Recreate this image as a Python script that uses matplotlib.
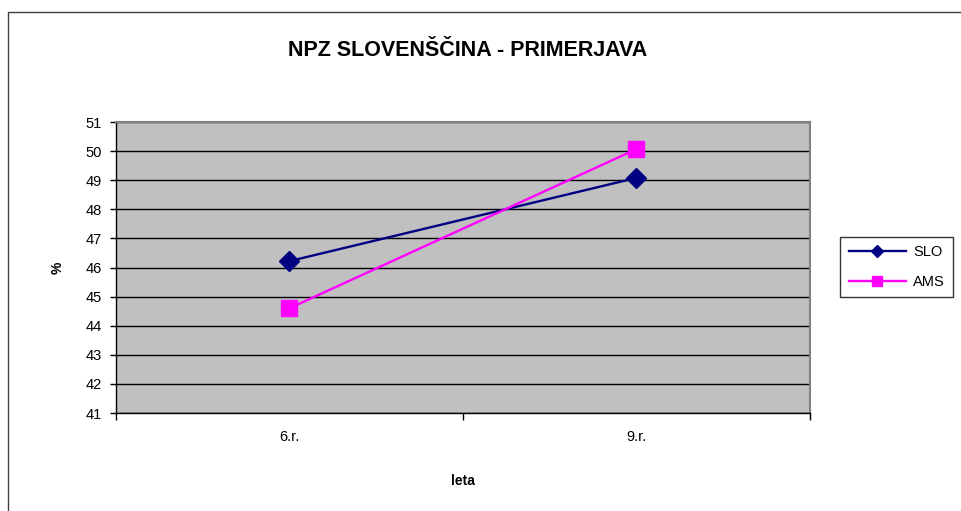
import matplotlib.pyplot as plt
import matplotlib.patches as patches
import numpy as np

plt.rcParams['font.family'] = ['Liberation Sans', 'DejaVu Sans']

# podatki
leta = ['6.r.', '9.r.']
slo = [46.22, 49.08]
ams = [44.6, 50.07]
y_ticks = list(range(41, 52))

fig = plt.figure(figsize=(9.62, 5.11), dpi=100)

# okvir grafikona
fig.patches.append(patches.Rectangle((8 / 962, -0.1), 1.1, 1 - 12 / 511 + 0.1,
                                     transform=fig.transFigure, fill=False,
                                     edgecolor='#404040', linewidth=1))

ax = fig.add_axes([116 / 962, 1 - 413 / 511, 694 / 962, 291 / 511])
ax.set_facecolor('#C0C0C0')

x = np.arange(len(leta)) + 0.5
ax.plot(x, slo, color='#000080', linewidth=1.7, marker='D', markersize=10, label='SLO')
ax.plot(x, ams, color='#FF00FF', linewidth=1.7, marker='s', markersize=11, label='AMS')

ax.set_xlim(0, len(leta))
ax.set_ylim(41, 51)
ax.set_yticks(y_ticks)
ax.set_yticklabels([str(v) for v in y_ticks], fontsize=10.5)
ax.set_xticks(np.arange(len(leta) + 1))
ax.set_xticklabels([])
ax.set_xticks(x, minor=True)
ax.set_xticklabels(leta, minor=True, fontsize=10.5)
ax.tick_params(axis='x', which='minor', length=0, pad=12)
ax.tick_params(axis='x', which='major', length=5, direction='out', width=1)
ax.tick_params(axis='y', length=4, direction='out', width=1, pad=6)

ax.yaxis.grid(True, color='black', linewidth=1)
ax.set_axisbelow(True)
for s in ['top', 'right']:
    ax.spines[s].set_color('#808080')
    ax.spines[s].set_linewidth(1.5)
for s in ['left', 'bottom']:
    ax.spines[s].set_color('black')
    ax.spines[s].set_linewidth(1)

ax.set_xlabel('leta', fontsize=10, fontweight='bold', labelpad=22)
ax.set_ylabel('%', fontsize=10, fontweight='bold', labelpad=15)

fig.text(468 / 962, 1 - 50 / 511, 'NPZ SLOVENŠČINA - PRIMERJAVA', ha='center', va='center',
         fontsize=15.5, fontweight='bold')

leg = ax.legend(loc='center left', bbox_to_anchor=(840 / 962, 1 - 267 / 511),
                bbox_transform=fig.transFigure, frameon=True, fancybox=False,
                fontsize=10.5, handlelength=3.9, borderpad=0.6, labelspacing=1.05,
                markerscale=0.65, borderaxespad=0, handletextpad=0.5)
leg.get_frame().set_edgecolor('black')
leg.get_frame().set_linewidth(1)

fig.savefig('out.png', dpi=100)
